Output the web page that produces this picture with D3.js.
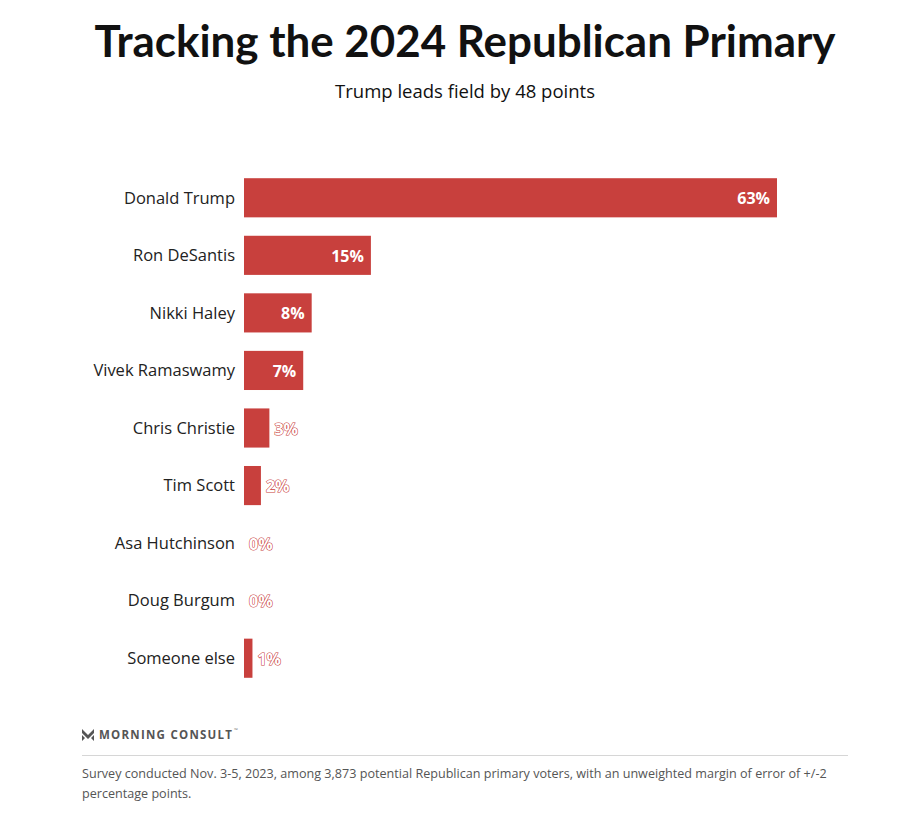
<!DOCTYPE html>
<html>
<head>
<meta charset="utf-8">
<script src="https://cdn.jsdelivr.net/npm/d3@7"></script>
<style>
  html, body { margin: 0; padding: 0; background: #fff; }
  svg { display: block; font-family: "Open Sans", "Noto Sans", sans-serif; }
</style>
</head>
<body>
<svg id="chart" width="900" height="822"></svg>
<script>
const candidates = ['Donald Trump', 'Ron DeSantis', 'Nikki Haley', 'Vivek Ramaswamy', 'Chris Christie', 'Tim Scott', 'Asa Hutchinson', 'Doug Burgum', 'Someone else'];
const shares = [63, 15, 8, 7, 3, 2, 0, 0, 1];
const title = 'Tracking the 2024 Republican Primary';
const subtitle = 'Trump leads field by 48 points';
const brand = 'MORNING CONSULT';
const noteLines = [
  'Survey conducted Nov. 3-5, 2023, among 3,873 potential Republican primary voters, with an unweighted margin of error of +/-2',
  'percentage points.'
];

const rows = candidates.map((name, i) => ({ name, value: shares[i] }));
const red = '#c8403d';
const width = 900;
const margin = { top: 169, left: 244, right: 123, bottom: 135 };

const svg = d3.select('#chart');

svg.append('text')
  .attr('x', 465).attr('y', 57)
  .attr('text-anchor', 'middle')
  .attr('font-family', 'Lato, "Open Sans", sans-serif')
  .attr('font-size', 44).attr('font-weight', 700).attr('fill', '#111')
  .attr('textLength', 741).attr('lengthAdjust', 'spacingAndGlyphs')
  .text(title);

svg.append('text')
  .attr('x', 465).attr('y', 98)
  .attr('text-anchor', 'middle')
  .attr('font-size', 18.5).attr('fill', '#111')
  .text(subtitle);

const x = d3.scaleLinear().domain([0, d3.max(rows, (d) => d.value)]).range([margin.left, width - margin.right]);
const y = d3.scaleBand().domain(candidates).range([margin.top, 822 - margin.bottom]).paddingInner(0.32).paddingOuter(0.16);

const row = svg.append('g').selectAll('g').data(rows).join('g');

row.append('text')
  .attr('x', margin.left - 9)
  .attr('y', (d) => y(d.name) + y.bandwidth() / 2)
  .attr('dy', '0.35em')
  .attr('text-anchor', 'end')
  .attr('font-size', 16.5).attr('fill', '#222')
  .text((d) => d.name);

row.filter((d) => d.value > 0).append('rect')
  .attr('x', x(0))
  .attr('y', (d) => y(d.name))
  .attr('width', (d) => x(d.value) - x(0))
  .attr('height', y.bandwidth())
  .attr('fill', red);

const inside = (d) => d.value >= 7;

row.append('text')
  .attr('x', (d) => inside(d) ? x(d.value) - 7 : x(d.value) + 5)
  .attr('y', (d) => y(d.name) + y.bandwidth() / 2 + 1)
  .attr('dy', '0.35em')
  .attr('text-anchor', (d) => inside(d) ? 'end' : 'start')
  .attr('font-size', 16).attr('font-weight', 700)
  .attr('fill', '#fff')
  .attr('stroke', (d) => inside(d) ? 'none' : red)
  .attr('stroke-width', 1.1)
  .attr('paint-order', 'stroke')
  .text((d) => `${d.value}%`);

// brand mark
const logo = svg.append('g').attr('transform', 'translate(82,729)');
logo.append('path')
  .attr('d', 'M0,0 L6,6 L12,0 L12,4 L6,10 L0,4 Z M0,6 L3,9 L0,12 Z M12,6 L12,12 L9,9 Z')
  .attr('fill', '#555');
svg.append('text')
  .attr('x', 99).attr('y', 739)
  .attr('font-size', 11.5).attr('font-weight', 700).attr('fill', '#555')
  .attr('letter-spacing', 1.25)
  .text(brand);
svg.append('text')
  .attr('x', 234).attr('y', 732)
  .attr('font-size', 5).attr('fill', '#777')
  .text('™');

svg.append('line')
  .attr('x1', 82).attr('x2', 848)
  .attr('y1', 755.5).attr('y2', 755.5)
  .attr('stroke', '#d6d6d6').attr('stroke-width', 1);

svg.append('g').selectAll('text').data(noteLines).join('text')
  .attr('x', 82)
  .attr('y', (d, i) => 778 + i * 20)
  .attr('font-size', 12.6).attr('fill', '#555')
  .text((d) => d);
</script>
</body>
</html>
